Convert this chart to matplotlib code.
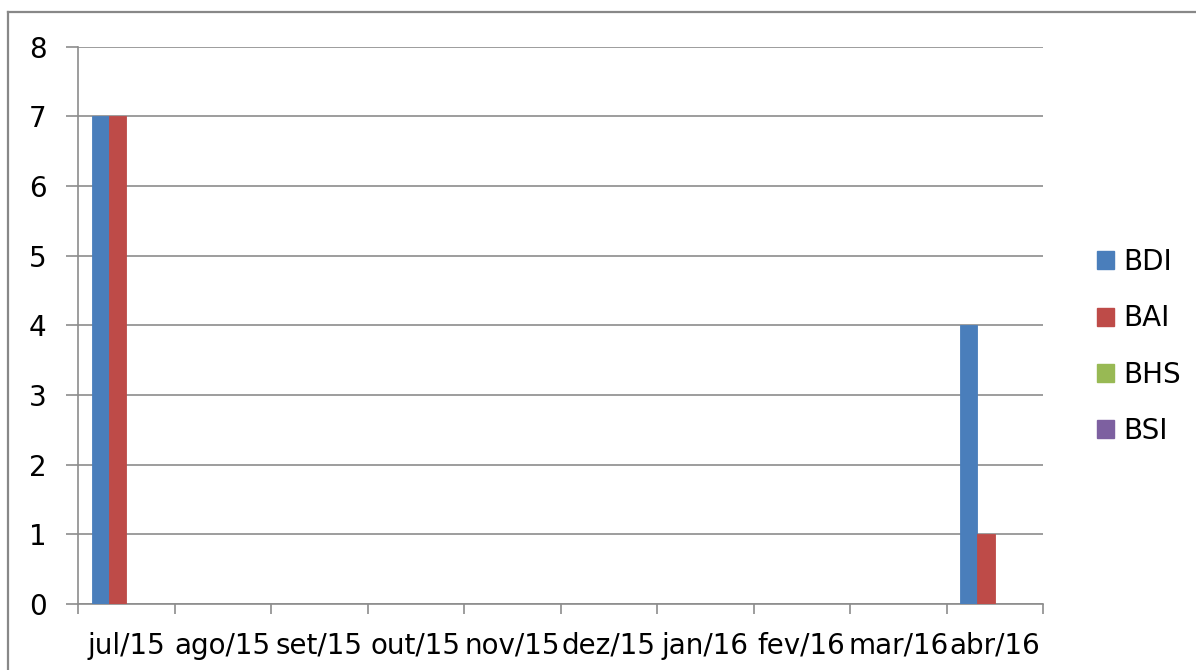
import matplotlib
matplotlib.use("Agg")
import matplotlib.pyplot as plt
from matplotlib.lines import Line2D
from matplotlib.patches import Patch
import numpy as np

months = ["jul/15", "ago/15", "set/15", "out/15", "nov/15",
          "dez/15", "jan/16", "fev/16", "mar/16", "abr/16"]
bdi = [7, 0, 0, 0, 0, 0, 0, 0, 0, 4]
bai = [7, 0, 0, 0, 0, 0, 0, 0, 0, 1]
bhs = [0, 0, 0, 0, 0, 0, 0, 0, 0, 0]
bsi = [0, 0, 0, 0, 0, 0, 0, 0, 0, 0]

series = [("BDI", bdi, "#4a7ebb"), ("BAI", bai, "#be4b48"),
          ("BHS", bhs, "#98b954"), ("BSI", bsi, "#7d60a0")]

plt.rcParams['font.family'] = ['DejaVu Sans']

W, H = 1196, 670
fig = plt.figure(figsize=(W / 100, H / 100), dpi=100)
ax = fig.add_axes([78 / W, 1 - 604 / H, (1043 - 78) / W, (604 - 46.5) / H])

x = np.arange(len(months))
width = 0.18
for k, (name, vals, col) in enumerate(series):
    ax.bar(x - 0.27 + k * width, vals, width, color=col, label=name,
           edgecolor=col, linewidth=0.6, zorder=3)

ax.set_xlim(-0.5, len(months) - 0.5)
ax.set_ylim(0, 8)
ax.set_yticks(range(9))
ax.yaxis.grid(True, color="#8c8c8c", linewidth=1.2, zorder=0)
ax.tick_params(axis="y", length=8.6, width=1.2, color="#8c8c8c",
               labelsize=20, pad=14)

# category boundaries get the tick marks, labels sit at the centres
ax.set_xticks(x)
ax.set_xticklabels(months)
ax.set_xticks(np.arange(len(months) + 1) - 0.5, minor=True)
ax.tick_params(axis="x", which="major", length=0, labelsize=20, pad=20)
ax.tick_params(axis="x", which="minor", length=7.2, width=1.2, color="#8c8c8c")

for side in ["top", "right"]:
    ax.spines[side].set_visible(False)
for side in ["left", "bottom"]:
    ax.spines[side].set_color("#8c8c8c")
    ax.spines[side].set_linewidth(1.2)

handles = [Patch(facecolor=c, edgecolor=c) for _, _, c in series]
fig.legend(handles, [s[0] for s in series], loc="upper left",
           bbox_to_anchor=(1097 / W, 1 - 248 / H), frameon=False,
           fontsize=20, handlelength=0.62, handleheight=0.62,
           handletextpad=0.33, labelspacing=1.02, borderpad=0,
           borderaxespad=0)

# thin frame around the chart area
fig.add_artist(Line2D([8 / W, 1], [1 - 12 / H, 1 - 12 / H], color="#888888", linewidth=1.6))
fig.add_artist(Line2D([8 / W, 8 / W], [0, 1 - 12 / H], color="#888888", linewidth=1.6))

fig.savefig("out.png", dpi=100)
